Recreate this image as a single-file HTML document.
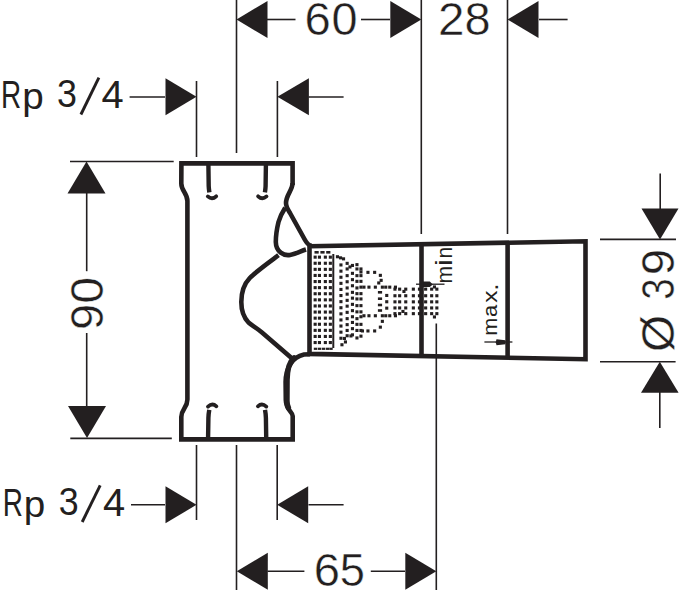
<!DOCTYPE html>
<html><head><meta charset="utf-8"><style>
html,body{margin:0;padding:0;background:#fff;}
svg{display:block;}
text{font-family:"Liberation Sans",sans-serif;font-size:100.0px;fill:#231f20;stroke:#fff;stroke-width:0.45px;vector-effect:non-scaling-stroke;}
text.nt{stroke:none;}
</style></head><body>
<svg width="679" height="590" viewBox="0 0 679 590">
<rect width="679" height="590" fill="#fff"/>
<g stroke="#231f20" fill="none"><line x1="236.5" y1="0" x2="236.5" y2="153" stroke-width="1.6"/><line x1="421.3" y1="0" x2="421.3" y2="234" stroke-width="1.6"/><line x1="507.5" y1="0" x2="507.5" y2="234" stroke-width="1.6"/><line x1="267" y1="19.5" x2="295.5" y2="19.5" stroke-width="1.6"/><line x1="361" y1="19.5" x2="390" y2="19.5" stroke-width="1.6"/><line x1="539" y1="19.5" x2="567.6" y2="19.5" stroke-width="1.6"/><line x1="129.6" y1="97" x2="165" y2="97" stroke-width="1.6"/><line x1="196.5" y1="81" x2="196.5" y2="157" stroke-width="1.6"/><line x1="277.4" y1="81" x2="277.4" y2="157" stroke-width="1.6"/><line x1="308.5" y1="97" x2="343.6" y2="97" stroke-width="1.6"/><line x1="70" y1="161.5" x2="173.7" y2="161.5" stroke-width="1.6"/><line x1="86.7" y1="193" x2="86.7" y2="271.2" stroke-width="1.6"/><line x1="86.7" y1="333" x2="86.7" y2="407" stroke-width="1.6"/><line x1="70.3" y1="438.4" x2="171.8" y2="438.4" stroke-width="1.6"/><line x1="660.2" y1="173.6" x2="660.2" y2="209" stroke-width="1.6"/><line x1="600" y1="239.4" x2="676" y2="239.4" stroke-width="1.6"/><line x1="600" y1="361.7" x2="675.6" y2="361.7" stroke-width="1.6"/><line x1="659.8" y1="392" x2="659.8" y2="428.1" stroke-width="1.6"/><line x1="131" y1="504.8" x2="165" y2="504.8" stroke-width="1.6"/><line x1="196.5" y1="445" x2="196.5" y2="520" stroke-width="1.6"/><line x1="277.2" y1="445" x2="277.2" y2="520" stroke-width="1.6"/><line x1="308.5" y1="504.8" x2="343.6" y2="504.8" stroke-width="1.6"/><line x1="236.5" y1="445" x2="236.5" y2="590" stroke-width="1.6"/><line x1="267.5" y1="571.2" x2="304.4" y2="571.2" stroke-width="1.6"/><line x1="370.8" y1="571.2" x2="405" y2="571.2" stroke-width="1.6"/><line x1="436.3" y1="323.4" x2="436.3" y2="590" stroke-width="1.6"/><line x1="416" y1="284.2" x2="444.5" y2="284.2" stroke-width="1.3"/><line x1="484.4" y1="342" x2="512.4" y2="342" stroke-width="1.3"/><line x1="80.9" y1="114.5" x2="98.9" y2="77.6" stroke-width="2.9"/><line x1="82.2" y1="522" x2="100.2" y2="485.3" stroke-width="2.9"/><line x1="333.3" y1="254" x2="333.3" y2="348" stroke-width="2.0"/></g>
<g fill="#231f20"><polygon points="236.5,19.5 267.5,1.0 267.5,38.0"/><polygon points="421.3,19.5 390.3,1.0 390.3,38.0"/><polygon points="507.5,19.5 538.5,1.0 538.5,38.0"/><polygon points="196.5,96.7 165.5,78.2 165.5,115.2"/><polygon points="277.4,96.7 308.9,78.2 308.9,115.2"/><polygon points="86.5,161.5 67.5,193.5 105.5,193.5"/><polygon points="87.0,438.0 68.0,406.0 106.0,406.0"/><polygon points="660.0,239.5 641.5,208.5 678.5,208.5"/><polygon points="659.8,361.7 641.0,392.7 678.6,392.7"/><polygon points="196.5,504.8 165.5,486.3 165.5,523.3"/><polygon points="277.2,504.8 308.2,486.3 308.2,523.3"/><polygon points="236.8,571.2 267.8,552.7 267.8,589.7"/><polygon points="436.3,571.2 405.3,552.7 405.3,589.7"/><polygon points="423,281.4 429.8,281.6 432.8,284.5 429.8,287.1 423,287.1"/><polygon points="496.5,339.2 505.5,340.2 505.5,344.3 496.5,345.3 495.7,342.2"/></g>
<g stroke="#231f20" fill="none" stroke-width="4.6" stroke-linejoin="round" stroke-linecap="butt"><path stroke-linejoin="miter" d="M292.6,185 L292.6,163.4 L181.4,163.4 L181.3,183.5 C181.3,191 187.4,193 187.4,201 L187.4,399.5 C187.4,408 181.3,409 181.3,417 L181.3,439.4 L292.7,439.4 L292.7,416 C292.7,412 286,410 285.8,400 L285.6,382 C285.8,368 292,357 304,354.5 L310,354.2"/><path d="M294,358 C290,361.5 287.2,368 287,380 L286.9,401 C287,404 287.5,406 288.3,407.5" stroke-width="5.6" stroke-linecap="round"/><path d="M292.6,183 C292.6,190 286,195 286,203 C286,207 287.5,209 290,213 L305,240 C307,243.5 309,245.8 312,245.8"/><path d="M285.2,207.8 C282.5,212 280,216.5 278.5,222 C276.8,229 275.8,236 275.8,242 C276,252 284,256 290,255 C296,254 301,251 306,249.5"/><path d="M278.5,255.2 C268,263 256,271.5 249.8,278 C244.5,283.5 241.3,291 241.3,302 C241.3,310 243.3,317 248.5,322.5 C252,325.5 256,327.5 262,332.5 L291.8,358.2"/><path d="M309.5,246.2 L585.5,241.3 L585.5,359.2 L309.5,353.9 Z" stroke-linejoin="miter"/><path d="M421.5,244.2 L421.5,356"/><path d="M507.6,242.7 L507.6,357.7"/><path d="M208.4,165 L208.7,186 C208.8,189 209.2,191 209.4,192.4" stroke-width="4.4"/><path d="M265.9,165 L265.6,186 C265.5,189 265.1,191 264.9,192.4" stroke-width="4.4"/><path d="M207.8,196.4 Q212,200.2 216.2,196.3" stroke-width="3.8" stroke-linecap="round"/><path d="M266.5,196.4 Q262.3,200.2 258.1,196.3" stroke-width="3.8" stroke-linecap="round"/><path d="M208.1,437 L208.4,418 C208.5,414 209,411.5 209.3,409.8" stroke-width="4.4"/><path d="M266.20000000000005,437 L265.9,418 C265.8,414 265.3,411.5 265.0,409.8" stroke-width="4.4"/><path d="M208,406.6 Q212.3,402.6 216.4,406.3" stroke-width="3.8" stroke-linecap="round"/><path d="M266.3,406.6 Q262.0,402.6 257.9,406.3" stroke-width="3.8" stroke-linecap="round"/></g>
<g fill="#231f20"><rect x="313.6" y="255.6" width="3.1" height="3.1"/><rect x="313.6" y="261.7" width="3.1" height="3.1"/><rect x="313.6" y="267.8" width="3.1" height="3.1"/><rect x="313.6" y="273.9" width="3.1" height="3.1"/><rect x="313.6" y="280.0" width="3.1" height="3.1"/><rect x="313.6" y="286.1" width="3.1" height="3.1"/><rect x="313.6" y="292.2" width="3.1" height="3.1"/><rect x="313.6" y="298.3" width="3.1" height="3.1"/><rect x="313.6" y="304.4" width="3.1" height="3.1"/><rect x="313.6" y="310.5" width="3.1" height="3.1"/><rect x="313.6" y="316.6" width="3.1" height="3.1"/><rect x="313.6" y="322.7" width="3.1" height="3.1"/><rect x="313.6" y="328.8" width="3.1" height="3.1"/><rect x="313.6" y="334.9" width="3.1" height="3.1"/><rect x="313.6" y="341.0" width="3.1" height="3.1"/><rect x="317.9" y="255.6" width="3.1" height="3.1"/><rect x="317.9" y="261.7" width="3.1" height="3.1"/><rect x="317.9" y="267.8" width="3.1" height="3.1"/><rect x="317.9" y="273.9" width="3.1" height="3.1"/><rect x="317.9" y="280.0" width="3.1" height="3.1"/><rect x="317.9" y="286.1" width="3.1" height="3.1"/><rect x="317.9" y="292.2" width="3.1" height="3.1"/><rect x="317.9" y="298.3" width="3.1" height="3.1"/><rect x="317.9" y="304.4" width="3.1" height="3.1"/><rect x="317.9" y="310.5" width="3.1" height="3.1"/><rect x="317.9" y="316.6" width="3.1" height="3.1"/><rect x="317.9" y="322.7" width="3.1" height="3.1"/><rect x="317.9" y="328.8" width="3.1" height="3.1"/><rect x="317.9" y="334.9" width="3.1" height="3.1"/><rect x="317.9" y="341.0" width="3.1" height="3.1"/><rect x="323.8" y="255.6" width="3.1" height="3.1"/><rect x="323.8" y="261.7" width="3.1" height="3.1"/><rect x="323.8" y="267.8" width="3.1" height="3.1"/><rect x="323.8" y="273.9" width="3.1" height="3.1"/><rect x="323.8" y="280.0" width="3.1" height="3.1"/><rect x="323.8" y="286.1" width="3.1" height="3.1"/><rect x="323.8" y="292.2" width="3.1" height="3.1"/><rect x="323.8" y="298.3" width="3.1" height="3.1"/><rect x="323.8" y="304.4" width="3.1" height="3.1"/><rect x="323.8" y="310.5" width="3.1" height="3.1"/><rect x="323.8" y="316.6" width="3.1" height="3.1"/><rect x="323.8" y="322.7" width="3.1" height="3.1"/><rect x="323.8" y="328.8" width="3.1" height="3.1"/><rect x="323.8" y="334.9" width="3.1" height="3.1"/><rect x="323.8" y="341.0" width="3.1" height="3.1"/><rect x="328.8" y="255.6" width="3.1" height="3.1"/><rect x="328.8" y="261.7" width="3.1" height="3.1"/><rect x="328.8" y="267.8" width="3.1" height="3.1"/><rect x="328.8" y="273.9" width="3.1" height="3.1"/><rect x="328.8" y="280.0" width="3.1" height="3.1"/><rect x="328.8" y="286.1" width="3.1" height="3.1"/><rect x="328.8" y="292.2" width="3.1" height="3.1"/><rect x="328.8" y="298.3" width="3.1" height="3.1"/><rect x="328.8" y="304.4" width="3.1" height="3.1"/><rect x="328.8" y="310.5" width="3.1" height="3.1"/><rect x="328.8" y="316.6" width="3.1" height="3.1"/><rect x="328.8" y="322.7" width="3.1" height="3.1"/><rect x="328.8" y="328.8" width="3.1" height="3.1"/><rect x="328.8" y="334.9" width="3.1" height="3.1"/><rect x="328.8" y="341.0" width="3.1" height="3.1"/><rect x="314.5" y="251.0" width="4.2" height="2.6"/><rect x="320.4" y="251.0" width="4.2" height="2.6"/><rect x="326.2" y="251.0" width="4.2" height="2.6"/><rect x="313.8" y="347.7" width="3.4" height="2.2"/><rect x="317.8" y="347.7" width="3.4" height="2.2"/><rect x="321.8" y="347.7" width="3.4" height="2.2"/><rect x="325.8" y="347.7" width="3.4" height="2.2"/><rect x="329.3" y="347.7" width="3.4" height="2.2"/><rect x="335.9" y="255.2" width="3.1" height="3.1"/><rect x="339.0" y="256.3" width="3.1" height="3.1"/><rect x="342.0" y="257.3" width="3.1" height="3.1"/><rect x="339.4" y="263.4" width="3.1" height="3.1"/><rect x="339.4" y="269.6" width="3.1" height="3.1"/><rect x="339.4" y="275.7" width="3.1" height="3.1"/><rect x="339.4" y="281.8" width="3.1" height="3.1"/><rect x="339.4" y="287.9" width="3.1" height="3.1"/><rect x="339.4" y="294.0" width="3.1" height="3.1"/><rect x="339.4" y="300.1" width="3.1" height="3.1"/><rect x="339.4" y="306.2" width="3.1" height="3.1"/><rect x="339.4" y="312.3" width="3.1" height="3.1"/><rect x="339.4" y="318.4" width="3.1" height="3.1"/><rect x="339.4" y="324.5" width="3.1" height="3.1"/><rect x="339.4" y="330.6" width="3.1" height="3.1"/><rect x="339.4" y="336.7" width="3.1" height="3.1"/><rect x="343.9" y="340.4" width="3.1" height="3.1"/><rect x="340.4" y="343.2" width="3.1" height="3.1"/><rect x="345.6" y="261.8" width="3.1" height="3.1"/><rect x="345.6" y="267.4" width="3.1" height="3.1"/><rect x="345.6" y="274.1" width="3.1" height="3.1"/><rect x="345.6" y="280.2" width="3.1" height="3.1"/><rect x="345.6" y="286.4" width="3.1" height="3.1"/><rect x="345.6" y="292.6" width="3.1" height="3.1"/><rect x="345.6" y="298.8" width="3.1" height="3.1"/><rect x="345.6" y="304.6" width="3.1" height="3.1"/><rect x="345.6" y="310.8" width="3.1" height="3.1"/><rect x="345.6" y="317.1" width="3.1" height="3.1"/><rect x="345.6" y="323.1" width="3.1" height="3.1"/><rect x="345.6" y="328.9" width="3.1" height="3.1"/><rect x="345.6" y="334.2" width="3.1" height="3.1"/><rect x="350.9" y="263.9" width="3.1" height="3.1"/><rect x="350.9" y="271.8" width="3.1" height="3.1"/><rect x="350.9" y="278.1" width="3.1" height="3.1"/><rect x="350.9" y="284.2" width="3.1" height="3.1"/><rect x="350.9" y="290.8" width="3.1" height="3.1"/><rect x="350.9" y="296.6" width="3.1" height="3.1"/><rect x="350.9" y="302.8" width="3.1" height="3.1"/><rect x="350.9" y="309.1" width="3.1" height="3.1"/><rect x="350.9" y="315.2" width="3.1" height="3.1"/><rect x="350.9" y="320.9" width="3.1" height="3.1"/><rect x="350.9" y="327.1" width="3.1" height="3.1"/><rect x="350.9" y="333.3" width="3.1" height="3.1"/><rect x="355.4" y="263.1" width="3.1" height="3.1"/><rect x="355.4" y="267.4" width="3.1" height="3.1"/><rect x="355.4" y="274.1" width="3.1" height="3.1"/><rect x="355.4" y="279.8" width="3.1" height="3.1"/><rect x="355.4" y="286.4" width="3.1" height="3.1"/><rect x="355.4" y="292.1" width="3.1" height="3.1"/><rect x="355.4" y="297.4" width="3.1" height="3.1"/><rect x="355.4" y="304.1" width="3.1" height="3.1"/><rect x="355.4" y="310.3" width="3.1" height="3.1"/><rect x="355.4" y="317.1" width="3.1" height="3.1"/><rect x="355.4" y="322.8" width="3.1" height="3.1"/><rect x="355.4" y="328.9" width="3.1" height="3.1"/><rect x="355.4" y="336.4" width="3.1" height="3.1"/><rect x="359.4" y="267.4" width="3.1" height="3.1"/><rect x="359.4" y="270.4" width="3.1" height="3.1"/><rect x="359.4" y="274.1" width="3.1" height="3.1"/><rect x="359.4" y="279.8" width="3.1" height="3.1"/><rect x="359.4" y="285.6" width="3.1" height="3.1"/><rect x="359.4" y="292.1" width="3.1" height="3.1"/><rect x="359.4" y="297.4" width="3.1" height="3.1"/><rect x="359.4" y="304.1" width="3.1" height="3.1"/><rect x="359.4" y="310.3" width="3.1" height="3.1"/><rect x="359.4" y="315.2" width="3.1" height="3.1"/><rect x="359.4" y="322.8" width="3.1" height="3.1"/><rect x="359.4" y="328.9" width="3.1" height="3.1"/><rect x="359.4" y="334.6" width="3.1" height="3.1"/><rect x="348.4" y="265.4" width="3.1" height="3.1"/><rect x="342.9" y="336.9" width="3.1" height="3.1"/><rect x="349.4" y="334.4" width="3.1" height="3.1"/><rect x="366.4" y="270.8" width="3.1" height="3.1"/><rect x="373.1" y="270.8" width="3.1" height="3.1"/><rect x="378.8" y="273.8" width="3.1" height="3.1"/><rect x="379.6" y="278.8" width="3.1" height="3.1"/><rect x="377.2" y="281.4" width="3.1" height="3.1"/><rect x="380.8" y="319.8" width="3.1" height="3.1"/><rect x="378.8" y="325.6" width="3.1" height="3.1"/><rect x="373.1" y="329.4" width="3.1" height="3.1"/><rect x="366.4" y="329.4" width="3.1" height="3.1"/><rect x="360.9" y="329.4" width="3.1" height="3.1"/><rect x="377.9" y="291.0" width="4.2" height="2.6"/><rect x="377.9" y="297.4" width="4.2" height="2.6"/><rect x="377.9" y="303.7" width="4.2" height="2.6"/><rect x="377.9" y="309.2" width="4.2" height="2.6"/><rect x="362.4" y="285.6" width="3.1" height="3.1"/><rect x="367.4" y="285.6" width="3.1" height="3.1"/><rect x="373.8" y="285.6" width="3.1" height="3.1"/><rect x="380.8" y="285.6" width="3.1" height="3.1"/><rect x="384.2" y="285.6" width="3.1" height="3.1"/><rect x="388.2" y="285.6" width="3.1" height="3.1"/><rect x="393.9" y="285.6" width="3.1" height="3.1"/><rect x="362.4" y="314.2" width="3.1" height="3.1"/><rect x="367.4" y="314.2" width="3.1" height="3.1"/><rect x="373.8" y="314.2" width="3.1" height="3.1"/><rect x="380.8" y="314.2" width="3.1" height="3.1"/><rect x="384.2" y="314.2" width="3.1" height="3.1"/><rect x="388.2" y="314.2" width="3.1" height="3.1"/><rect x="393.9" y="314.2" width="3.1" height="3.1"/><rect x="385.2" y="293.9" width="3.1" height="3.1"/><rect x="385.2" y="300.2" width="3.1" height="3.1"/><rect x="385.2" y="306.6" width="3.1" height="3.1"/><rect x="393.4" y="287.6" width="3.1" height="3.1"/><rect x="393.4" y="294.2" width="3.1" height="3.1"/><rect x="393.4" y="300.3" width="3.1" height="3.1"/><rect x="393.4" y="306.4" width="3.1" height="3.1"/><rect x="393.4" y="312.1" width="3.1" height="3.1"/><rect x="398.1" y="287.6" width="3.1" height="3.1"/><rect x="398.1" y="294.2" width="3.1" height="3.1"/><rect x="398.1" y="300.3" width="3.1" height="3.1"/><rect x="398.1" y="306.4" width="3.1" height="3.1"/><rect x="398.1" y="312.1" width="3.1" height="3.1"/><rect x="404.2" y="287.6" width="3.1" height="3.1"/><rect x="404.2" y="294.2" width="3.1" height="3.1"/><rect x="404.2" y="300.3" width="3.1" height="3.1"/><rect x="404.2" y="306.4" width="3.1" height="3.1"/><rect x="404.2" y="312.1" width="3.1" height="3.1"/><rect x="411.8" y="287.6" width="3.1" height="3.1"/><rect x="411.8" y="294.2" width="3.1" height="3.1"/><rect x="411.8" y="300.3" width="3.1" height="3.1"/><rect x="411.8" y="306.4" width="3.1" height="3.1"/><rect x="411.8" y="312.1" width="3.1" height="3.1"/><rect x="417.9" y="287.6" width="3.1" height="3.1"/><rect x="417.9" y="294.2" width="3.1" height="3.1"/><rect x="417.9" y="300.3" width="3.1" height="3.1"/><rect x="417.9" y="306.4" width="3.1" height="3.1"/><rect x="417.9" y="312.1" width="3.1" height="3.1"/><rect x="424.1" y="287.6" width="3.1" height="3.1"/><rect x="424.1" y="294.2" width="3.1" height="3.1"/><rect x="424.1" y="300.3" width="3.1" height="3.1"/><rect x="424.1" y="306.4" width="3.1" height="3.1"/><rect x="424.1" y="312.1" width="3.1" height="3.1"/><rect x="430.1" y="287.6" width="3.1" height="3.1"/><rect x="430.1" y="294.2" width="3.1" height="3.1"/><rect x="430.1" y="300.3" width="3.1" height="3.1"/><rect x="430.1" y="306.4" width="3.1" height="3.1"/><rect x="430.1" y="312.1" width="3.1" height="3.1"/><rect x="435.3" y="287.6" width="3.1" height="3.1"/><rect x="435.3" y="294.2" width="3.1" height="3.1"/><rect x="435.3" y="300.3" width="3.1" height="3.1"/><rect x="435.3" y="306.4" width="3.1" height="3.1"/><rect x="435.3" y="312.1" width="3.1" height="3.1"/><rect x="402.4" y="289.9" width="3.1" height="3.1"/><rect x="401.4" y="309.9" width="3.1" height="3.1"/><rect x="432.9" y="285.4" width="3.1" height="3.1"/><rect x="432.9" y="315.4" width="3.1" height="3.1"/></g>
<g><text transform="translate(304.50,35.35) scale(0.4724,0.4562)">6</text><text transform="translate(331.57,35.35) scale(0.4686,0.4562)">0</text><text transform="translate(437.90,35.40) scale(0.4763,0.4597)">2</text><text transform="translate(464.46,34.96) scale(0.4688,0.4534)">8</text><text transform="translate(313.80,586.35) scale(0.4724,0.4604)">6</text><text transform="translate(339.68,586.35) scale(0.4535,0.4615)">5</text><text transform="translate(1.11,107.50) scale(0.2796,0.3895)" class="nt">R</text><text transform="translate(22.21,109.10) scale(0.3869,0.3664)" class="nt">p</text><text transform="translate(57.03,107.43) scale(0.3586,0.3828)" class="nt">3</text><text transform="translate(101.48,107.50) scale(0.3989,0.3895)" class="nt">4</text><text transform="translate(2.71,515.50) scale(0.2796,0.3895)" class="nt">R</text><text transform="translate(23.81,517.10) scale(0.3869,0.3664)" class="nt">p</text><text transform="translate(58.63,515.43) scale(0.3586,0.3828)" class="nt">3</text><text transform="translate(103.08,515.50) scale(0.3989,0.3895)" class="nt">4</text><text transform="translate(102.74,329.90) rotate(-90) scale(0.4698,0.4675)">9</text><text transform="translate(102.74,303.56) rotate(-90) scale(0.4770,0.4675)">0</text><text transform="translate(674.41,352.06) rotate(-90) scale(0.4778,0.4584)">Ø</text><text transform="translate(674.25,299.87) rotate(-90) scale(0.3860,0.4590)">3</text><text transform="translate(673.75,275.22) rotate(-90) scale(0.4741,0.4590)">9</text><text transform="translate(451.80,283.60) rotate(-90) scale(0.2112,0.2174)" class="nt">m</text><text transform="translate(451.80,265.95) rotate(-90) scale(0.3072,0.2374)" class="nt">i</text><text transform="translate(451.80,258.59) rotate(-90) scale(0.2095,0.2174)" class="nt">n</text><text transform="translate(497.30,335.84) rotate(-90) scale(0.2169,0.1989)" class="nt">m</text><text transform="translate(497.11,317.03) rotate(-90) scale(0.2180,0.1953)" class="nt">a</text><text transform="translate(497.30,302.67) rotate(-90) scale(0.2448,0.2025)" class="nt">x</text><text transform="translate(497.90,290.80) rotate(-90) scale(0.2626,0.2431)" class="nt">.</text></g>
</svg>
</body></html>
